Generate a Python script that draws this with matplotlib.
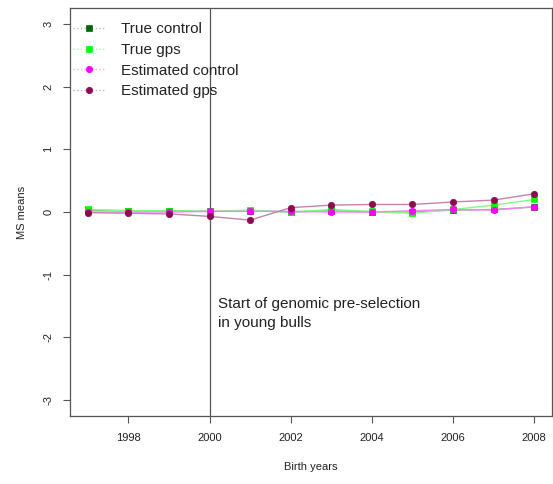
import matplotlib
matplotlib.use("Agg")
import matplotlib.pyplot as plt
from matplotlib.colors import to_rgb

plt.rcParams["font.family"] = ["Liberation Sans", "DejaVu Sans"]
plt.rcParams["axes.unicode_minus"] = False

years = [1997, 1998, 1999, 2000, 2001, 2002, 2003, 2004, 2005, 2006, 2007, 2008]
true_control = [0.03, 0.02, 0.02, 0.01, 0.02, 0.00, 0.02, 0.00, 0.00, 0.03, 0.04, 0.08]
true_gps = [0.04, 0.02, 0.02, 0.01, 0.03, 0.00, 0.04, 0.01, -0.02, 0.04, 0.11, 0.20]
est_control = [0.00, 0.00, 0.00, 0.01, 0.01, 0.01, 0.00, 0.00, 0.02, 0.04, 0.03, 0.085]
est_gps = [-0.01, -0.02, -0.03, -0.07, -0.13, 0.07, 0.11, 0.12, 0.12, 0.16, 0.19, 0.29]

series = [
    ("True control", true_control, "#006400", "s", 4.2),
    ("True gps", true_gps, "#00ff00", "s", 4.2),
    ("Estimated control", est_control, "#ff00ff", "o", 4.6),
    ("Estimated gps", est_gps, "#8b0a50", "o", 4.6),
]


def light(col, f=0.5):
    r, g, b = to_rgb(col)
    return (1 - f * (1 - r), 1 - f * (1 - g), 1 - f * (1 - b))


fig = plt.figure(figsize=(5.53, 4.84), dpi=100)
ax = fig.add_axes([70 / 553, 68 / 484, 482 / 553, 408 / 484])

for label, vals, col, mk, ms in series:
    ax.plot(years, vals, color=light(col, 0.5), lw=1, zorder=2)
    ax.plot(years, vals, ls="none", marker=mk, ms=ms, mew=0.5, color=col, zorder=3)
    # legend handle: faint dotted line, solid marker
    ax.plot([], [], ls=":", lw=1, color=light(col, 0.35), marker=mk, ms=ms,
            mfc=col, mec=col, mew=0.5, label=label)

ax.axvline(2000, color="#555555", lw=0.9, zorder=1)
ax.text(2000.22, -1.47, "Start of genomic pre-selection", fontsize=11,
        color="#222222", va="center", ha="left")
ax.text(2000.22, -1.77, "in young bulls", fontsize=11,
        color="#222222", va="center", ha="left")

ax.set_xlim(1996.56, 2008.44)
ax.set_ylim(-3.255, 3.255)
ax.set_xticks(range(1998, 2009, 2))
ax.set_yticks(range(-3, 4))
ax.tick_params(direction="out", length=5, width=0.8, colors="#555555",
               labelcolor="#222222", labelsize=8, pad=7)
for lab in ax.get_yticklabels():
    lab.set_rotation(90)
    lab.set_va("center")
for sp in ax.spines.values():
    sp.set_color("#555555")
    sp.set_linewidth(0.9)

ax.set_xlabel("Birth years", fontsize=8, color="#222222", labelpad=14)
ax.set_ylabel("MS means", fontsize=8, color="#222222", labelpad=12)

leg = ax.legend(loc="upper left", frameon=False, fontsize=11, handlelength=2.1,
                handletextpad=1.05, labelspacing=0.43, borderaxespad=0,
                borderpad=0.2, bbox_to_anchor=(0.0, 0.972))
for t in leg.get_texts():
    t.set_color("#222222")

fig.savefig("out.png", dpi=100)
